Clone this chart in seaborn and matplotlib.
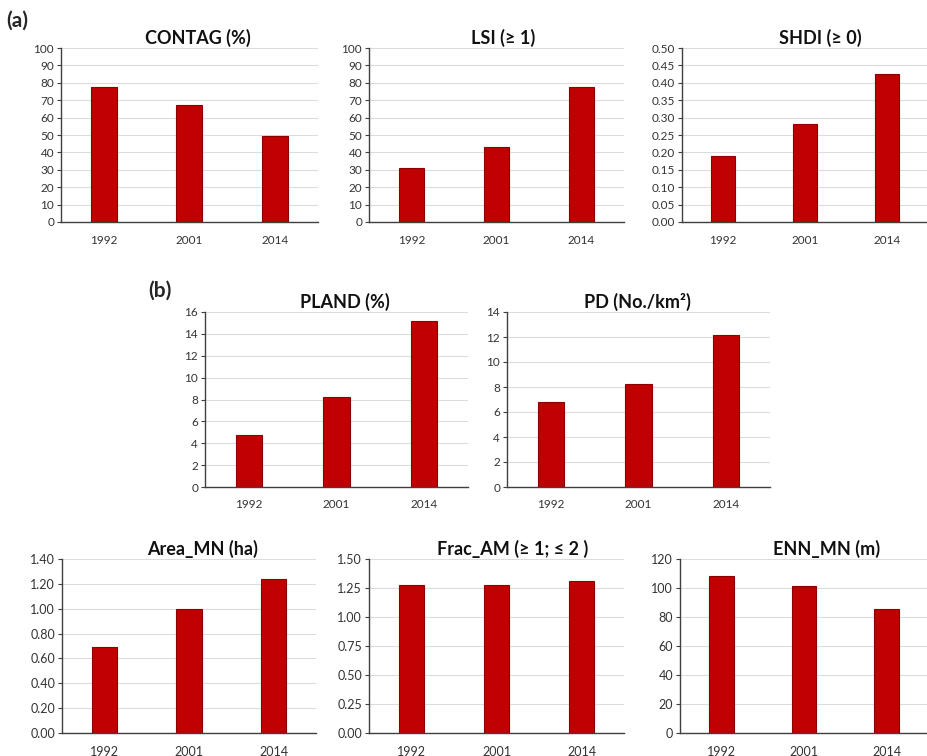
import matplotlib
matplotlib.use("Agg")
import matplotlib.pyplot as plt
import numpy as np
import pandas as pd
import seaborn as sns

# data
years = ["1992", "2001", "2014"]
contag = [77.3, 67.2, 49.5]
lsi = [30.8, 43.0, 77.6]
shdi = [0.191, 0.283, 0.425]
pland = [4.74, 8.23, 15.14]
pd_density = [6.83, 8.22, 12.2]
area_mn = [0.695, 0.998, 1.24]
frac_am = [1.273, 1.279, 1.307]
enn_mn = [108.3, 101.4, 85.6]

BAR_COLOR = "#C00000"
EDGE_COLOR = "#8B0000"
W, H = 928, 756

sns.set_theme(style="white")
plt.rcParams["font.family"] = ["Lato", "DejaVu Sans"]


def make_ax(fig, x0, x1, y_top, y_bot):
    """axes podane w pikselach obrazka"""
    ax = fig.add_axes([x0 / W, 1 - y_bot / H, (x1 - x0) / W, (y_bot - y_top) / H])
    ax._px = (x0, x1)
    return ax


def draw_panel(ax, values, title, ymax, step, fmt, title_x, xmax=2.5, fs=8.5):
    df = pd.DataFrame({"year": years, "value": values})
    sns.barplot(data=df, x="year", y="value", order=years, color=BAR_COLOR,
                width=0.3, edgecolor=EDGE_COLOR, linewidth=0.8, saturation=1, ax=ax)
    ax.set_xlim(-0.5, xmax)
    ax.set_ylim(0, ymax)
    ticks = np.arange(0, ymax + step / 2, step)
    ax.set_yticks(ticks)
    ax.set_yticklabels([fmt % t for t in ticks], fontsize=fs, color="#333333")
    ax.set_xticks(range(3))
    ax.set_xticklabels(years, fontsize=fs, color="#333333")
    ax.set_xticks([-0.5, 0.5, 1.5, 2.5], minor=True)
    ax.tick_params(axis="x", which="major", length=0, pad=9)
    ax.tick_params(axis="x", which="minor", length=4, width=0.8, color="#404040", direction="out")
    ax.tick_params(axis="y", length=3, width=0.8, color="#404040", direction="out", pad=2, left=True)
    ax.set_xlabel("")
    ax.set_ylabel("")
    ax.yaxis.grid(True, color="#dcdcdc", lw=0.8)
    ax.set_axisbelow(True)
    for s in ["top", "right"]:
        ax.spines[s].set_visible(False)
    for s in ["left", "bottom"]:
        ax.spines[s].set_color("#404040")
        ax.spines[s].set_linewidth(1.0)
    x0, x1 = ax._px
    ax.set_title(title, fontsize=13, fontweight="bold", pad=3, color="#111111",
                 x=(title_x - x0) / (x1 - x0))


fig = plt.figure(figsize=(W / 100, H / 100), dpi=100)
fig.patch.set_facecolor("white")

# (a)
ax = make_ax(fig, 61, 317.5, 48, 222)
draw_panel(ax, contag, "CONTAG (%)", 100, 10, "%d", 198)
ax = make_ax(fig, 369, 624, 48, 222)
draw_panel(ax, lsi, "LSI (≥ 1)", 100, 10, "%d", 503)
ax = make_ax(fig, 682, 928, 48, 222)
draw_panel(ax, shdi, "SHDI (≥ 0)", 0.5, 0.05, "%.2f", 820, xmax=2.41)

# (b)
ax = make_ax(fig, 205, 468, 312, 487)
draw_panel(ax, pland, "PLAND (%)", 16, 2, "%d", 345)
ax = make_ax(fig, 507, 770, 312, 487)
draw_panel(ax, pd_density, "PD (No./km²)", 14, 2, "%d", 637)

# dolny rząd
ax = make_ax(fig, 62, 316, 559, 733)
draw_panel(ax, area_mn, "Area_MN (ha)", 1.4, 0.2, "%.2f", 203, fs=9)
ax = make_ax(fig, 369, 624, 559, 733)
draw_panel(ax, frac_am, "Frac_AM (≥ 1; ≤ 2 )", 1.5, 0.25, "%.2f", 513, fs=9)
ax = make_ax(fig, 680, 928, 559, 733)
draw_panel(ax, enn_mn, "ENN_MN (m)", 120, 20, "%d", 827, xmax=2.38, fs=9)

fig.text(6 / W, 1 - 21 / H, "(a)", fontsize=15, fontweight="bold", va="center", ha="left")
fig.text(148 / W, 1 - 291 / H, "(b)", fontsize=15, fontweight="bold", va="center", ha="left")

fig.savefig("out.png", dpi=100, facecolor="white")
